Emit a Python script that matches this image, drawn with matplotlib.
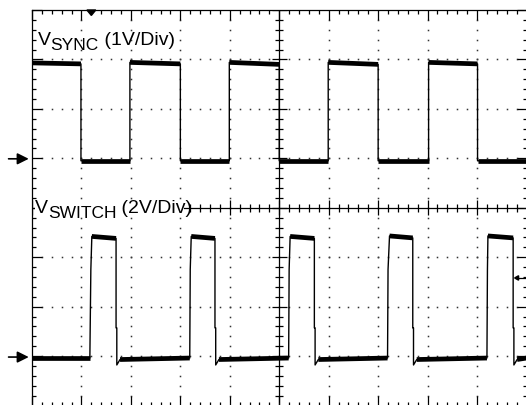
import numpy as np
import matplotlib.pyplot as plt
from matplotlib.patches import Polygon, Rectangle

plt.rcParams['font.family'] = ['Liberation Sans', 'DejaVu Sans']

# screen is 10 x 8 divisions, centre line at 0 V (y = 0)
N_XDIV = 10
N_YDIV = 8

# channel 1: V_SYNC, 1 V/div (vertices in divisions)
sync_t = [0.00, 0.99, 0.99, 1.98, 1.98, 3.00, 3.00, 3.99, 3.99, 5.00,
          5.00, 5.99, 5.99, 7.00, 7.00, 8.02, 8.02, 9.01, 9.01, 10.00]
sync_v = [2.93, 2.91, 0.95, 0.95, 2.94, 2.91, 0.95, 0.95, 2.94, 2.90,
          0.95, 0.95, 2.94, 2.90, 0.95, 0.95, 2.94, 2.91, 0.95, 0.95]

# channel 2: V_SWITCH, 2 V/div
sw_t = [0.00,
        1.17, 1.19, 1.21, 1.70, 1.70, 1.715, 1.715, 1.78,
        3.19, 3.20, 3.22, 3.70, 3.70, 3.715, 3.715, 3.78,
        5.19, 5.20, 5.22, 5.71, 5.71, 5.725, 5.725, 5.79,
        7.19, 7.20, 7.23, 7.70, 7.70, 7.715, 7.715, 7.78,
        9.20, 9.21, 9.22, 9.73, 9.73, 9.745, 9.745, 9.81,
        10.00]
sw_v = [-3.04,
        -3.04, -1.25, -0.58, -0.62, -2.43, -2.43, -3.18, -3.07,
        -3.04, -1.25, -0.58, -0.62, -2.43, -2.43, -3.18, -3.07,
        -3.04, -1.25, -0.58, -0.62, -2.43, -2.43, -3.18, -3.07,
        -3.04, -1.25, -0.57, -0.61, -2.43, -2.43, -3.18, -3.07,
        -3.04, -1.25, -0.57, -0.61, -2.43, -2.43, -3.18, -3.07,
        -3.04]

# ground reference markers (left) and trigger markers
ground_levels = [0.99, -3.02]
trigger_time = 1.20
trigger_level = -1.42

fig = plt.figure(figsize=(5.26, 4.05), dpi=100)
ax = fig.add_axes([32 / 526, -0.5 / 405, 494.5 / 526, 395.5 / 405])
ax.set_xlim(0, N_XDIV)
ax.set_ylim(-N_YDIV / 2, N_YDIV / 2)

for s in ax.spines.values():
    s.set_linewidth(0.9)
ax.set_xticks(np.arange(0, N_XDIV + 1, 1))
ax.set_yticks(np.arange(-N_YDIV / 2, N_YDIV / 2 + 1, 1))
ax.set_xticks(np.arange(0, N_XDIV + 0.01, 0.2), minor=True)
ax.set_yticks(np.arange(-N_YDIV / 2, N_YDIV / 2 + 0.01, 0.2), minor=True)
ax.tick_params(which='both', direction='in', top=True, right=True,
               labelbottom=False, labelleft=False, width=0.9)
ax.tick_params(which='major', length=7)
ax.tick_params(which='minor', length=3)

# dotted graticule
for gx in range(1, N_XDIV):
    if gx == N_XDIV // 2:
        continue
    ys = np.arange(-N_YDIV / 2 + 0.2, N_YDIV / 2 - 0.1, 0.2)
    ax.plot(np.full_like(ys, gx), ys, ls='none', marker='s', ms=1.1,
            mec='none', mfc='#333333', zorder=1)
for gy in range(-N_YDIV // 2 + 1, N_YDIV // 2):
    if gy == 0:
        continue
    xs = np.arange(0.2, N_XDIV - 0.1, 0.2)
    ax.plot(xs, np.full_like(xs, gy), ls='none', marker='s', ms=1.1,
            mec='none', mfc='#333333', zorder=1)

# centre cross with ticks
ax.axhline(0, color='black', lw=0.9, zorder=1)
ax.axvline(N_XDIV / 2, color='black', lw=0.9, zorder=1)
cx = np.arange(0, N_XDIV + 0.01, 0.2)
major_x = np.isclose(cx % 1, 0) | np.isclose(cx % 1, 1)
ax.vlines(cx[~major_x], -0.08, 0.08, color='black', lw=0.9, zorder=1)
ax.vlines(cx[major_x], -0.15, 0.15, color='black', lw=0.9, zorder=1)
cy = np.arange(-N_YDIV / 2, N_YDIV / 2 + 0.01, 0.2)
major_y = np.isclose(cy % 1, 0) | np.isclose(cy % 1, 1)
ax.hlines(cy[~major_y], 4.92, 5.08, color='black', lw=0.9, zorder=1)
ax.hlines(cy[major_y], 4.85, 5.15, color='black', lw=0.9, zorder=1)


def draw_trace(t, v):
    t = np.asarray(t)
    v = np.asarray(v)
    ax.plot(t, v, color='black', lw=1.0, zorder=3)
    # noisy flat parts drawn as a thicker band
    for i in range(len(t) - 1):
        if abs(v[i + 1] - v[i]) < 0.1 and t[i + 1] - t[i] > 0.1:
            ax.plot(t[i:i + 2], v[i:i + 2], color='black', lw=3.4,
                    solid_capstyle='butt', zorder=3)


draw_trace(sync_t, sync_v)
draw_trace(sw_t, sw_v)

# labels
def scope_label(x, y, sub, rest):
    t1 = ax.text(x, y, 'V', fontsize=14, ha='left', va='baseline', zorder=5)
    t2 = ax.annotate(sub, xy=(1, 0), xycoords=t1, xytext=(0, -3),
                     textcoords='offset points', fontsize=12.5,
                     ha='left', va='bottom', zorder=5)
    ax.annotate(rest, xy=(1, 0), xycoords=t2, xytext=(0, 3),
                textcoords='offset points', fontsize=14,
                ha='left', va='bottom', zorder=5)


scope_label(0.115, 3.30, 'SYNC', ' (1V/Div)')
ax.add_patch(Rectangle((0.07, -0.17), 3.0, 0.33, facecolor='white',
                       edgecolor='none', zorder=4))
scope_label(0.06, -0.10, 'SWITCH', ' (2V/Div)')

# ground arrows on the left
for g in ground_levels:
    ax.annotate('', xy=(-0.01, g), xytext=(-0.53, g),
                arrowprops=dict(arrowstyle='-|>', color='black', lw=1.2,
                                mutation_scale=17),
                annotation_clip=False)

# trigger position marker (top) and trigger level marker (right)
ax.add_patch(Polygon([[trigger_time - 0.09, 4.0], [trigger_time + 0.09, 4.0],
                      [trigger_time, 3.89]], closed=True, color='black',
                     zorder=5, clip_on=False))
ax.add_patch(Polygon([[9.76, trigger_level], [9.84, trigger_level + 0.045],
                      [9.84, trigger_level - 0.045]], closed=True,
                     color='black', zorder=5))
ax.plot([9.84, 10.0], [trigger_level, trigger_level], color='black', lw=0.9)

fig.savefig('out.png', dpi=100)
